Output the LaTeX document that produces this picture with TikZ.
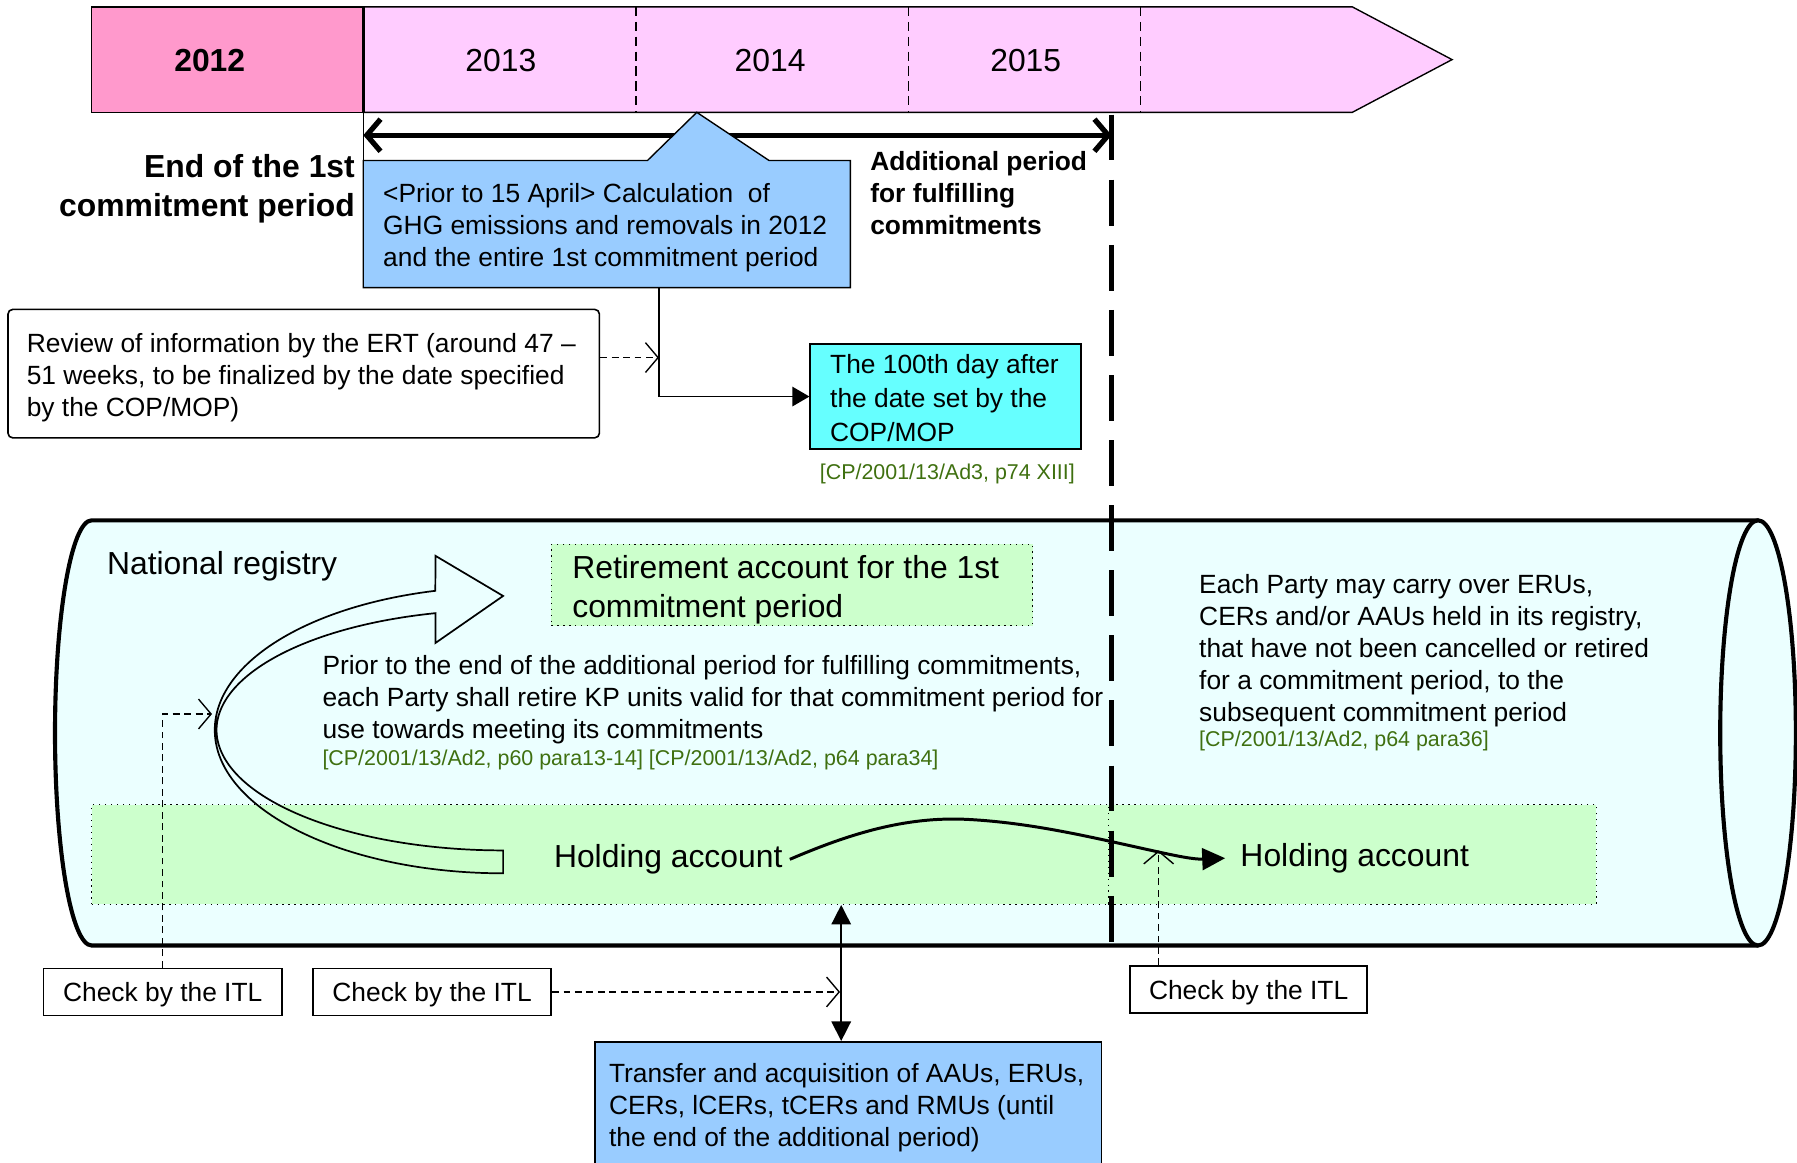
\documentclass[tikz,border=0pt]{standalone}
\usepackage{fontspec}
\setmainfont{Liberation Sans}
\usetikzlibrary{arrows.meta,calc}
\definecolor{pinkA}{HTML}{FF99CC}
\definecolor{pinkB}{HTML}{FFCCFF}
\definecolor{blueA}{HTML}{99CCFF}
\definecolor{cyanA}{HTML}{66FFFF}
\definecolor{cylF}{HTML}{EBFFFF}
\definecolor{greenA}{HTML}{CCFFCC}
\definecolor{citeG}{HTML}{3F7010}
\begin{document}
\begin{tikzpicture}[x=0.5pt,y=-0.5pt,
  fN/.style={font=\fontsize{11.5}{14}\selectfont},
  fNb/.style={font=\fontsize{11.5}{14}\selectfont\bfseries},
  fL/.style={font=\fontsize{13.9}{16.75}\selectfont},
  fLb/.style={font=\fontsize{13.9}{17}\selectfont\bfseries},
  fS/.style={font=\fontsize{9.35}{11}\selectfont, text=citeG},
  txt/.style={inner sep=0pt},
  mtxt/.style={inner sep=0pt, align=left, anchor=north west},
  box/.style={draw=black, line width=0.7pt, inner sep=0pt},
  dotbox/.style={draw=black, line width=0.6pt, dotted, fill=greenA, inner sep=0pt},
  dasharrow/.style={draw=black, line width=0.6pt, dash pattern=on 3pt off 2pt, -{Straight Barb[length=5.5pt,width=13pt]}},
  fillarrow/.style={draw=black, line width=0.8pt, -{Triangle[length=7.5pt,width=8.5pt]}},
  itlbox/.style={draw=black, line width=0.7pt, fill=white, minimum width=104pt, minimum height=20.5pt, inner sep=0pt, text depth=0pt, fN},
]
\useasboundingbox (0,0) rectangle (1568,1014);

% ---- timeline bar
\filldraw[fill=pinkB, draw=black, line width=0.6pt] (317,6) -- (1180,6) -- (1267,52) -- (1180,98) -- (317,98) -- cycle;
\filldraw[fill=pinkA, draw=black, line width=0.6pt] (80,6) rectangle (317,98);
\draw[line width=1.3pt] (317,6) -- (317,98);
\foreach \x in {555,793,995} \draw[line width=0.5pt, dash pattern=on 4pt off 2.5pt] (\x,6) -- (\x,98);
\node[txt, fLb] (y2012) at (183,53) {2012};
\node[txt, fL] (y2013) at (437,53) {2013};
\node[txt, fL] (y2014) at (672,53) {2014};
\node[txt, fL] (y2015) at (895,53) {2015};

\draw[line width=0.6pt] (317,98) -- (317,140);
\coordinate (endcp) at (317,118);
\coordinate (endadd) at (970,118);
\draw[line width=2.3pt, {Straight Barb[length=6pt,width=14pt]}-{Straight Barb[length=6pt,width=14pt]}] (endcp) -- (endadd);

% ---- callout
\filldraw[fill=blueA, draw=black, line width=0.6pt] (317,140) -- (565,140) -- (608,98) -- (671,140) -- (742,140) -- (742,251) -- (317,251) -- cycle;
\node[inner sep=0pt, minimum width=212.5pt, minimum height=55.5pt] (calc) at (529.5,195.5) {};
\node[mtxt, fN] (calctxt) at (334,159.5) {<Prior to 15 April> Calculation\ \ of\\GHG emissions and removals in 2012\\and the entire 1st commitment period};

\node[txt, fLb, align=right, anchor=north east] (endlbl) at (310,134.6) {End of the 1st\\commitment period};
\node[mtxt, fNb] (addlbl) at (759,131.5) {Additional period\\for fulfilling\\commitments};

% ---- review and 100th day
\node[box, rounded corners=2pt, fill=white, minimum width=258pt, minimum height=56pt] (review) at (265,326) {};
\node[mtxt, fN] (reviewtxt) at (23,290.5) {Review of information by the ERT (around 47 –\\51 weeks, to be finalized by the date specified\\by the COP/MOP)};
\node[box, fill=cyanA, minimum width=118pt, minimum height=46pt] (day) at (825,346) {};
\node[mtxt, font=\fontsize{11.5}{14.85}\selectfont] (daytxt) at (724,308.5) {The 100th day after\\the date set by the\\COP/MOP};
\node[txt, fS, anchor=base west] (cite1) at (715,418.5) {[CP/2001/13/Ad3, p74 XIII]};

\coordinate (elbow) at (575,346);
\draw[fillarrow] (calc.south -| elbow) -- (elbow) -- (day.west);
\coordinate (revtip) at (575,312);
\draw[dasharrow] (review.east |- revtip) -- (revtip);

% ---- cylinder
\filldraw[fill=cylF, draw=black, line width=1.8pt] (1534,454) -- (80,454) arc[start angle=270, end angle=90, x radius=32, y radius=185.5] -- (1534,825);
\filldraw[fill=cylF, draw=black, line width=1.8pt] (1534,639.5) ellipse[x radius=33, y radius=185.5];

\node[txt, fL, anchor=base west] (natreg) at (93,501) {National registry};

\node[dotbox, minimum width=445.5pt, minimum height=43.5pt] (hold1) at (525.5,745.5) {};
\node[dotbox, minimum width=213pt, minimum height=43.5pt] (hold2) at (1180,745.5) {};
\node[dotbox, minimum width=210pt, minimum height=35.5pt] (retire) at (691,510.5) {};
\node[mtxt, fL] (retiretxt) at (499,484.6) {Retirement account for the 1st\\commitment period};

\node[txt, fL, anchor=base west] (h1t) at (483,757) {Holding account};
\node[txt, fL, anchor=base west] (h2t) at (1082,756) {Holding account};

\node[mtxt, fN] (prior) at (281,571.5) {Prior to the end of the additional period for fulfilling commitments,\\each Party shall retire KP units valid for that commitment period for\\use towards meeting its commitments};
\node[txt, fS, anchor=base west] (cite2) at (281,667.5) {[CP/2001/13/Ad2, p60 para13-14] [CP/2001/13/Ad2, p64 para34]};
\node[mtxt, fN] (carry) at (1046,500.5) {Each Party may carry over ERUs,\\CERs and/or AAUs held in its registry,\\that have not been cancelled or retired\\for a commitment period, to the\\subsequent commitment period};
\node[txt, fS, anchor=base west] (cite3) at (1046,651.5) {[CP/2001/13/Ad2, p64 para36]};

% ---- curved retirement arrow
\draw[line width=0.75pt, line join=miter] (380,485) -- (439,520) -- (380,561) -- (380,535)
  arc[start angle=256.35, end angle=90, x radius=250, y radius=105]
  -- (439,762)
  arc[start angle=90, end angle=256.4, x radius=251.6, y radius=125]
  -- cycle;

% ---- carry-over arrow
\draw[line width=1.3pt, -{Triangle[length=10pt,width=9.5pt]}] ([xshift=3pt]h1t.east) .. controls (740,728) and (790,712) .. (845,715) .. controls (900,718) and (950,730) .. (1000,741) .. controls (1020,745.4) and (1040,750) .. ([xshift=-6.5pt]h2t.west);

% ---- end of additional period
\draw[line width=2pt, dash pattern=on 20pt off 8.4pt] (970,100) -- (970,825);

% ---- ITL checks
\node[itlbox] (itl1) at (142,865.5) {Check by the ITL};
\node[itlbox] (itl2) at (377,865.5) {Check by the ITL};
\node[itlbox, minimum width=103.5pt] (itl3) at (1089.5,863.5) {Check by the ITL};
\coordinate (c1) at (185,623);
\draw[dasharrow] (itl1.north) |- (c1);
\coordinate (c2) at (733,865.5);
\draw[dasharrow] (itl2.east) -- (c2);
\coordinate (c3) at (1011,742);
\draw[dasharrow] (c3 |- itl3.north) -- (c3);

% ---- transfer
\node[box, fill=blueA, minimum width=221pt, minimum height=55pt] (transfer) at (740,964) {};
\node[mtxt, fN] (transfertxt) at (531,927.5) {Transfer and acquisition of AAUs, ERUs,\\CERs, lCERs, tCERs and RMUs (until\\the end of the additional period)};
\coordinate (va) at (734,0);
\draw[line width=0.7pt, {Triangle[length=8.5pt,width=8.5pt]}-{Triangle[length=8.5pt,width=8.5pt]}] (hold1.south -| va) -- (transfer.north -| va);
\end{tikzpicture}
\end{document}
